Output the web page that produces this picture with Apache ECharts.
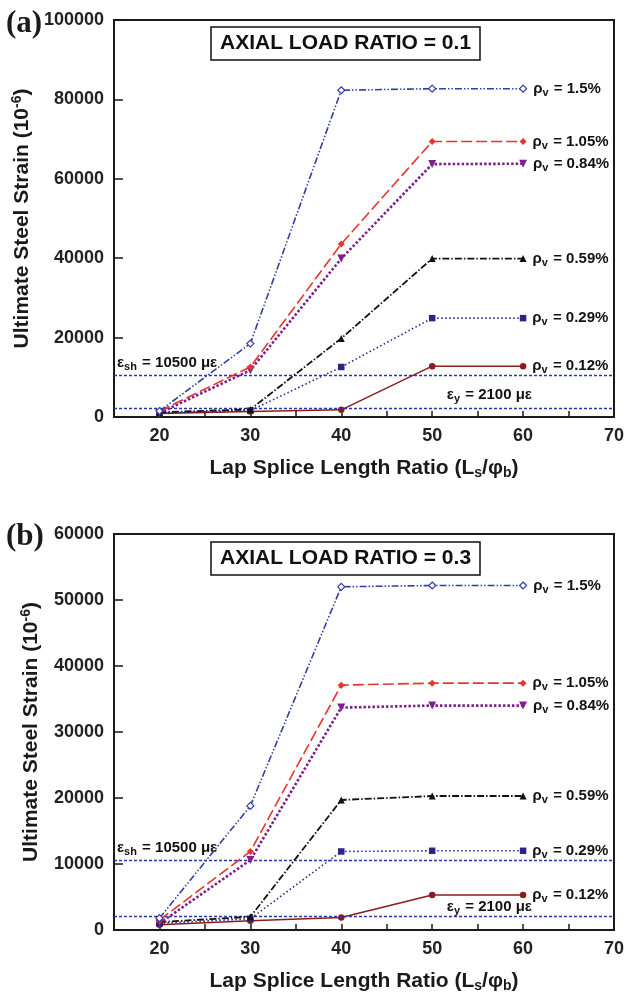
<!DOCTYPE html>
<html><head><meta charset="utf-8">
<script src="https://cdn.jsdelivr.net/npm/echarts@6/dist/echarts.min.js"></script>
<style>html,body{margin:0;padding:0;background:#fff}#c{width:627px;height:999px}</style>
</head><body><div id="c"></div>
<script>
// ---- data ----
const lapRatio = [20, 30, 40, 50, 60];
const rhoLabels = ['1.5%', '1.05%', '0.84%', '0.59%', '0.29%', '0.12%'];
// Panel (a): axial load ratio 0.1
const a_rho150 = [1500, 18500, 82300, 82700, 82700];
const a_rho105 = [1500, 12600, 43600, 69400, 69400];
const a_rho084 = [1000, 11800, 39900, 63700, 63800];
const a_rho059 = [1200, 1900, 19800, 39900, 39900];
const a_rho029 = [1000, 1600, 12600, 24900, 24900];
const a_rho012 = [900, 1400, 1800, 12800, 12800];
// Panel (b): axial load ratio 0.3
const b_rho150 = [1800, 18800, 52000, 52200, 52200];
const b_rho105 = [1500, 11900, 37100, 37400, 37400];
const b_rho084 = [1000, 10600, 33700, 34000, 34000];
const b_rho059 = [1200, 2000, 19700, 20300, 20300];
const b_rho029 = [1000, 1700, 11900, 12000, 12000];
const b_rho012 = [800, 1400, 1900, 5300, 5300];
const epsSh = 10500, epsY = 2100;
const titlesText = ['AXIAL LOAD RATIO = 0.1', 'AXIAL LOAD RATIO = 0.3'];
const panelTags = ['(a)', '(b)'];
const yMaxA = 100000, yStepA = 20000, yMaxB = 60000, yStepB = 10000;
const xMin = 15, xMax = 70, xStep = 5;

// ---- styles ----
const FONT = '"Liberation Sans", Arial, sans-serif';
const styles = [
  {color: '#2f3fa3', dash: [7,2,1.5,2,1.5,2], width: 1.6, symbol: 'diamond', size: 7, fill: '#fff', rot: 0},
  {color: '#e8342b', dash: [11,4], width: 1.6, symbol: 'diamond', size: 7, fill: '#e8342b', rot: 0},
  {color: '#7d1f8e', dash: [2.5,2], width: 2.6, symbol: 'triangle', size: 8, fill: '#7d1f8e', rot: 180},
  {color: '#111', dash: [7,2,1.5,2], width: 1.8, symbol: 'triangle', size: 7, fill: '#111', rot: 0},
  {color: '#2c2585', dash: [1.5,2.5], width: 1.6, symbol: 'rect', size: 6.5, fill: '#2c2585', rot: 0},
  {color: '#8b1c1c', dash: 'solid', width: 1.5, symbol: 'circle', size: 6.5, fill: '#8b1c1c', rot: 0}
];

const chart = echarts.init(document.getElementById('c'), null, {renderer: 'canvas'});

const endLabelRich = {
  r: {fontFamily: FONT, fontWeight: 'bold', fontSize: 15, color: '#111'},
  s: {fontFamily: FONT, fontWeight: 'bold', fontSize: 11, color: '#111', padding: [8, 1, 0, 0]}
};
const refLabelRich = {
  r: {fontFamily: FONT, fontWeight: 'bold', fontSize: 15, color: '#111'},
  s: {fontFamily: FONT, fontWeight: 'bold', fontSize: 11, color: '#111', padding: [8, 1, 0, 0]}
};

function makeSeries(values, idx, panel) {
  const st = styles[idx];
  const last = values.length - 1;
  const data = values.map((v, i) => {
    if (i === last) {
      return {value: [lapRatio[i], v], label: {
        show: true, position: 'right', distance: 6,
        formatter: '{r|ρ}{s|v}{r| = ' + rhoLabels[idx] + '}', rich: endLabelRich
      }};
    }
    return [lapRatio[i], v];
  });
  return {
    type: 'line', xAxisIndex: panel, yAxisIndex: panel, data: data,
    symbol: st.symbol, symbolSize: st.size, symbolRotate: st.rot,
    lineStyle: {color: st.color, width: st.width, type: st.dash},
    itemStyle: {color: st.fill, borderColor: st.color, borderWidth: st.fill === '#fff' ? 1.2 : 0},
    emphasis: {disabled: true}, animation: false, z: 3 + (5 - idx)
  };
}

function refLines(panel, yOffsetY) {
  return {
    type: 'line', xAxisIndex: panel, yAxisIndex: panel, data: [], animation: false,
    markLine: {
      silent: true, symbol: 'none', animation: false,
      lineStyle: {color: '#2435b0', type: [3, 2], width: 1.4},
      data: [
        {yAxis: epsSh, label: {show: true, position: 'insideStartTop', distance: [3, 3],
          formatter: '{r|ε}{s|sh}{r| = 10500 με}', rich: refLabelRich}},
        {yAxis: epsY, label: {show: true, position: 'insideEndTop', distance: [82, yOffsetY],
          formatter: '{r|ε}{s|y}{r| = 2100 με}', rich: refLabelRich}}
      ]
    }
  };
}

function xAxisCfg(gi) {
  return {
    type: 'value', gridIndex: gi, min: xMin, max: xMax, interval: xStep,
    name: '{t|Lap Splice Length Ratio (L}{sb|s}{t|/φ}{sb|b}{t|)}',
    nameLocation: 'middle', nameGap: 39,
    nameTextStyle: {rich: {
      t: {fontFamily: FONT, fontWeight: 'bold', fontSize: 21, color: '#1a1a1a'},
      sb: {fontFamily: FONT, fontWeight: 'bold', fontSize: 14, color: '#1a1a1a', padding: [10, 0, 0, 0]}
    }},
    axisLine: {show: true, onZero: false, lineStyle: {color: '#1a1a1a', width: 2}},
    axisTick: {show: true, inside: true, length: 6, lineStyle: {color: '#1a1a1a', width: 1.5}},
    axisLabel: {margin: 10, fontFamily: FONT, fontWeight: 'bold', fontSize: 18, color: '#222',
      formatter: v => (v % 10 === 0 && v > xMin) ? String(v) : ''},
    splitLine: {show: false}
  };
}
function yAxisCfg(gi, max, step) {
  return {
    type: 'value', gridIndex: gi, min: 0, max: max, interval: step,
    name: '{t|Ultimate Steel Strain (10}{sp|-6}{t|)}',
    nameLocation: 'middle', nameGap: 71, nameRotate: 90,
    nameTextStyle: {rich: {
      t: {fontFamily: FONT, fontWeight: 'bold', fontSize: 21, color: '#1a1a1a'},
      sp: {fontFamily: FONT, fontWeight: 'bold', fontSize: 14, color: '#1a1a1a', padding: [0, 0, 10, 0]}
    }},
    axisLine: {show: true, lineStyle: {color: '#1a1a1a', width: 2}},
    axisTick: {show: true, inside: true, length: 9, lineStyle: {color: '#1a1a1a', width: 1.5}},
    axisLabel: {margin: 10, fontFamily: FONT, fontWeight: 'bold', fontSize: 18, color: '#222',
      formatter: v => String(v)},
    splitLine: {show: false}
  };
}

const option = {
  backgroundColor: '#fff',
  animation: false,
  title: titlesText.map((t, i) => ({
    text: t, left: 211, top: i === 0 ? 27 : 542,
    padding: [6, 9], borderColor: '#111', borderWidth: 1.5, backgroundColor: '#fff',
    textStyle: {fontFamily: FONT, fontWeight: 'bold', fontSize: 21, color: '#111'}
  })),
  grid: [
    {left: 114, top: 20, width: 503, height: 397, show: true, borderColor: '#1a1a1a', borderWidth: 2, backgroundColor: 'transparent', containLabel: false},
    {left: 114, top: 534, width: 503, height: 396, show: true, borderColor: '#1a1a1a', borderWidth: 2, backgroundColor: 'transparent', containLabel: false}
  ],
  xAxis: [xAxisCfg(0), xAxisCfg(1)],
  yAxis: [yAxisCfg(0, yMaxA, yStepA), yAxisCfg(1, yMaxB, yStepB)],
  graphic: panelTags.map((t, i) => ({
    type: 'text', left: 6, top: i === 0 ? 8 : 521,
    style: {text: t, fontFamily: '"Liberation Serif", "Times New Roman", serif', fontWeight: 'bold', fontSize: 31, fill: '#1a1a1a'}
  })),
  series: [
    refLines(0, 4), refLines(1, 0),
    ...[a_rho150, a_rho105, a_rho084, a_rho059, a_rho029, a_rho012].map((v, i) => makeSeries(v, i, 0)),
    ...[b_rho150, b_rho105, b_rho084, b_rho059, b_rho029, b_rho012].map((v, i) => makeSeries(v, i, 1))
  ]
};
chart.setOption(option);
</script>
</body></html>
